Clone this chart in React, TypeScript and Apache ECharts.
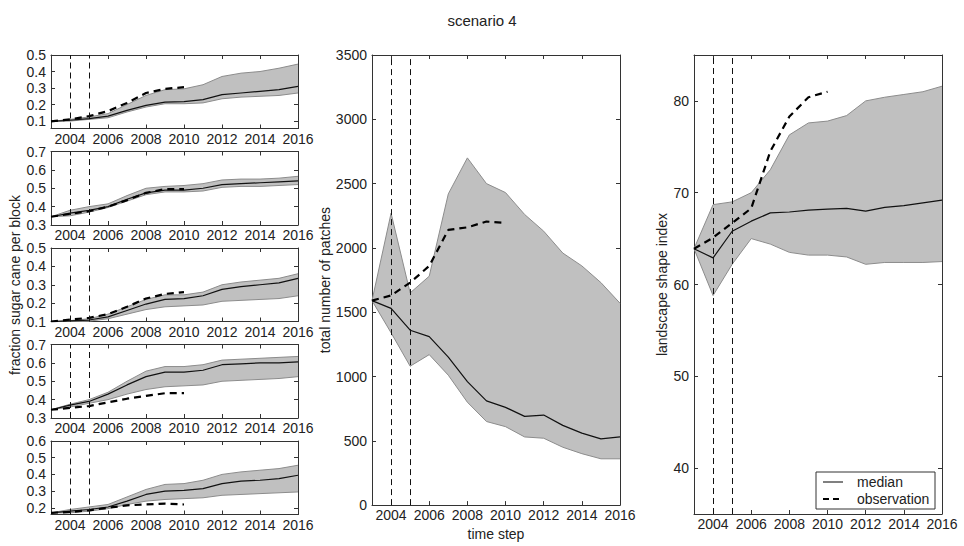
import React, { useEffect, useRef } from "react";
import * as echarts from "echarts";

const years = [2003, 2004, 2005, 2006, 2007, 2008, 2009, 2010, 2011, 2012, 2013, 2014, 2015, 2016];
const obsYears = [2003, 2004, 2005, 2006, 2007, 2008, 2009, 2010];
const xTickValues = [2004, 2006, 2008, 2010, 2012, 2014, 2016];
const markYears = [2004, 2005];

// left block panels (fraction sugar cane per block)
const b1Median = [0.098, 0.105, 0.115, 0.13, 0.165, 0.195, 0.215, 0.218, 0.23, 0.26, 0.27, 0.28, 0.29, 0.31];
const b1Upper = [0.098, 0.11, 0.125, 0.145, 0.2, 0.255, 0.29, 0.295, 0.32, 0.37, 0.39, 0.4, 0.42, 0.445];
const b1Lower = [0.098, 0.1, 0.11, 0.12, 0.155, 0.185, 0.205, 0.205, 0.21, 0.235, 0.245, 0.25, 0.255, 0.27];
const b1Obs = [0.098, 0.11, 0.13, 0.16, 0.21, 0.27, 0.295, 0.305];

const b2Median = [0.345, 0.365, 0.38, 0.4, 0.44, 0.475, 0.49, 0.49, 0.5, 0.52, 0.525, 0.53, 0.535, 0.54];
const b2Upper = [0.345, 0.38, 0.4, 0.415, 0.46, 0.5, 0.51, 0.515, 0.525, 0.545, 0.55, 0.55, 0.555, 0.565];
const b2Lower = [0.345, 0.35, 0.37, 0.395, 0.43, 0.465, 0.48, 0.48, 0.485, 0.505, 0.51, 0.51, 0.515, 0.52];
const b2Obs = [0.345, 0.36, 0.375, 0.4, 0.435, 0.475, 0.495, 0.495];

const b3Median = [0.1, 0.103, 0.108, 0.125, 0.16, 0.195, 0.22, 0.225, 0.24, 0.275, 0.29, 0.3, 0.31, 0.335];
const b3Upper = [0.1, 0.105, 0.115, 0.14, 0.18, 0.22, 0.245, 0.245, 0.26, 0.3, 0.315, 0.325, 0.335, 0.36];
const b3Lower = [0.1, 0.1, 0.102, 0.115, 0.14, 0.165, 0.18, 0.185, 0.19, 0.21, 0.215, 0.22, 0.225, 0.24];
const b3Obs = [0.1, 0.11, 0.12, 0.14, 0.18, 0.225, 0.25, 0.26];

const b4Median = [0.345, 0.37, 0.39, 0.43, 0.48, 0.525, 0.55, 0.55, 0.56, 0.59, 0.595, 0.6, 0.6, 0.605];
const b4Upper = [0.345, 0.375, 0.4, 0.44, 0.5, 0.555, 0.58, 0.58, 0.59, 0.615, 0.62, 0.625, 0.63, 0.635];
const b4Lower = [0.345, 0.36, 0.38, 0.4, 0.43, 0.455, 0.47, 0.475, 0.48, 0.5, 0.505, 0.51, 0.515, 0.525];
const b4Obs = [0.345, 0.355, 0.365, 0.385, 0.405, 0.42, 0.435, 0.435];

const b5Median = [0.17, 0.18, 0.19, 0.205, 0.24, 0.28, 0.3, 0.305, 0.315, 0.345, 0.36, 0.365, 0.375, 0.395];
const b5Upper = [0.17, 0.19, 0.205, 0.22, 0.265, 0.31, 0.34, 0.345, 0.365, 0.4, 0.415, 0.425, 0.435, 0.455];
const b5Lower = [0.17, 0.17, 0.18, 0.195, 0.22, 0.24, 0.25, 0.255, 0.26, 0.275, 0.28, 0.285, 0.29, 0.295];
const b5Obs = [0.17, 0.175, 0.185, 0.2, 0.215, 0.22, 0.225, 0.22];

const blockYMin = [0.055, 0.3, 0.1, 0.3, 0.16];
const blockYMax = [0.5, 0.7, 0.5, 0.7, 0.6];
const blockYTicks = [
  [0.1, 0.2, 0.3, 0.4, 0.5],
  [0.3, 0.4, 0.5, 0.6, 0.7],
  [0.1, 0.2, 0.3, 0.4, 0.5],
  [0.3, 0.4, 0.5, 0.6, 0.7],
  [0.2, 0.3, 0.4, 0.5, 0.6],
];

// total number of patches
const patchMedian = [1590, 1530, 1360, 1310, 1150, 960, 810, 760, 690, 700, 620, 560, 515, 530];
const patchUpper = [1590, 2270, 1650, 1780, 2420, 2700, 2500, 2430, 2260, 2130, 1960, 1860, 1730, 1570];
const patchLower = [1590, 1340, 1080, 1170, 1010, 800, 650, 610, 530, 520, 450, 400, 360, 360];
const patchObs = [1590, 1630, 1730, 1860, 2140, 2160, 2205, 2195];

// landscape shape index
const lsiMedian = [63.9, 62.9, 65.8, 66.9, 67.8, 67.9, 68.1, 68.2, 68.3, 68.0, 68.4, 68.6, 68.9, 69.2];
const lsiUpper = [63.9, 68.7, 69.0, 70.0, 72.5, 76.3, 77.6, 77.8, 78.4, 80.0, 80.4, 80.7, 81.0, 81.6];
const lsiLower = [63.9, 58.8, 62.2, 65.0, 64.4, 63.5, 63.2, 63.2, 63.0, 62.2, 62.4, 62.4, 62.4, 62.5];
const lsiObs = [63.9, 65.1, 66.7, 68.3, 74.5, 78.3, 80.4, 81.0];
const lsiTicks = [40, 50, 60, 70, 80];

const FONT = "Liberation Sans, Arial, Helvetica, sans-serif";
const TXT = "#222";
const AX = "#333";
const FS = 14;

type Panel = {
  median: number[];
  upper: number[];
  lower: number[];
  obs: number[];
  yMin: number;
  yMax: number;
  yTicks?: number[];
  yInterval?: number;
  fmt: (v: number) => string;
  grid: { left: number; top: number; width: number; height: number };
  yName?: string;
  yNameGap?: number;
  xName?: string;
};

function buildOption() {
  const panels: Panel[] = [];
  const blocks = [
    [b1Median, b1Upper, b1Lower, b1Obs],
    [b2Median, b2Upper, b2Lower, b2Obs],
    [b3Median, b3Upper, b3Lower, b3Obs],
    [b4Median, b4Upper, b4Lower, b4Obs],
    [b5Median, b5Upper, b5Lower, b5Obs],
  ];
  blocks.forEach((b, i) => {
    panels.push({
      median: b[0],
      upper: b[1],
      lower: b[2],
      obs: b[3],
      yMin: blockYMin[i],
      yMax: blockYMax[i],
      yTicks: blockYTicks[i],
      fmt: (v) => v.toFixed(1),
      grid: { left: 51, top: 55 + 96.5 * i, width: 247, height: 73.5 },
    });
  });
  panels.push({
    median: patchMedian,
    upper: patchUpper,
    lower: patchLower,
    obs: patchObs,
    yMin: 0,
    yMax: 3500,
    yInterval: 500,
    fmt: (v) => String(v),
    grid: { left: 372, top: 55, width: 248, height: 459 },
    yName: "total number of patches",
    yNameGap: 40,
    xName: "time step",
  });
  panels.push({
    median: lsiMedian,
    upper: lsiUpper,
    lower: lsiLower,
    obs: lsiObs,
    yMin: 35,
    yMax: 85,
    yTicks: lsiTicks,
    fmt: (v) => String(v),
    grid: { left: 694, top: 55, width: 248, height: 459 },
    yName: "landscape shape index",
    yNameGap: 25,
  });

  const grids: any[] = [];
  const xAxes: any[] = [];
  const yAxes: any[] = [];
  const series: any[] = [];

  const tickStyle = { inside: true, length: 4, lineStyle: { color: AX, width: 1 } };
  const lineStyle = { lineStyle: { color: AX, width: 1 } };
  const labelStyle = { color: TXT, fontSize: FS, fontFamily: FONT };

  panels.forEach((p, g) => {
    grids.push({ ...p.grid, containLabel: false });
    xAxes.push({
      type: "value",
      gridIndex: g,
      position: "bottom",
      min: 2003,
      max: 2016,
      axisLine: { show: true, onZero: false, ...lineStyle },
      axisTick: { ...tickStyle, customValues: xTickValues },
      axisLabel: { ...labelStyle, margin: 3, customValues: xTickValues, formatter: (v: number) => String(v) },
      splitLine: { show: false },
      name: p.xName,
      nameLocation: "middle",
      nameGap: 17,
      nameTextStyle: { ...labelStyle },
    });
    xAxes.push({
      type: "value",
      gridIndex: g,
      position: "top",
      min: 2003,
      max: 2016,
      axisLine: { show: true, onZero: false, ...lineStyle },
      axisTick: { ...tickStyle, customValues: xTickValues },
      axisLabel: { show: false, customValues: xTickValues },
      splitLine: { show: false },
    });
    const yTickCfg: any = p.yTicks ? { customValues: p.yTicks } : {};
    yAxes.push({
      type: "value",
      gridIndex: g,
      position: "left",
      min: p.yMin,
      max: p.yMax,
      interval: p.yInterval,
      axisLine: { show: true, onZero: false, ...lineStyle },
      axisTick: { ...tickStyle, ...yTickCfg },
      axisLabel: { ...labelStyle, margin: 5, ...yTickCfg, formatter: p.fmt },
      splitLine: { show: false },
      name: p.yName,
      nameLocation: "middle",
      nameGap: p.yNameGap,
      nameTextStyle: { ...labelStyle },
    });
    yAxes.push({
      type: "value",
      gridIndex: g,
      position: "right",
      min: p.yMin,
      max: p.yMax,
      interval: p.yInterval,
      axisLine: { show: true, onZero: false, ...lineStyle },
      axisTick: { ...tickStyle, ...yTickCfg },
      axisLabel: { show: false, ...yTickCfg },
      splitLine: { show: false },
    });

    const xi = 2 * g;
    const yi = 2 * g;
    const up = p.upper;
    const lo = p.lower;
    // shaded band between lower and upper: one polygon built through the axis scales
    series.push({
      type: "custom",
      xAxisIndex: xi,
      yAxisIndex: yi,
      silent: true,
      z: 1,
      data: years.map((y, i) => [y, lo[i], up[i]]),
      encode: { x: 0, y: [1, 2] },
      renderItem: (params: any, api: any) => {
        if (params.dataIndex !== 0) return null;
        const top = years.map((y, i) => api.coord([y, up[i]]));
        const bottom = years.map((y, i) => api.coord([y, lo[i]])).reverse();
        return {
          type: "polygon",
          shape: { points: top.concat(bottom) },
          style: { fill: "#c0c0c0", stroke: "none" },
        };
      },
    });
    series.push({
      type: "line",
      xAxisIndex: xi,
      yAxisIndex: yi,
      data: years.map((y, i) => [y, lo[i]]),
      symbol: "none",
      lineStyle: { color: "#8c8c8c", width: 1 },
      z: 2,
      silent: true,
    });
    series.push({
      type: "line",
      xAxisIndex: xi,
      yAxisIndex: yi,
      data: years.map((y, i) => [y, up[i]]),
      symbol: "none",
      lineStyle: { color: "#8c8c8c", width: 1 },
      z: 2,
      silent: true,
    });
    series.push({
      type: "line",
      xAxisIndex: xi,
      yAxisIndex: yi,
      data: years.map((y, i) => [y, p.median[i]]),
      symbol: "none",
      lineStyle: { color: "#111", width: 1.2 },
      z: 3,
      silent: true,
      markLine: {
        silent: true,
        symbol: ["none", "none"],
        label: { show: false },
        lineStyle: { color: "#111", width: 1, type: [6, 4] },
        data: markYears.map((y) => ({ xAxis: y })),
        z: 5,
      },
    });
    series.push({
      type: "line",
      xAxisIndex: xi,
      yAxisIndex: yi,
      data: obsYears.map((y, i) => [y, p.obs[i]]),
      symbol: "none",
      lineStyle: { color: "#000", width: 2.2, type: [7, 5] },
      z: 4,
      silent: true,
    });
  });

  const graphic: any[] = [
    {
      type: "text",
      x: 15,
      y: 285,
      rotation: Math.PI / 2,
      style: {
        text: "fraction sugar cane per block",
        fontSize: FS,
        fontFamily: FONT,
        fill: TXT,
        align: "center",
        verticalAlign: "middle",
      },
    },
    {
      type: "rect",
      shape: { x: 816, y: 472, width: 119, height: 37 },
      style: { fill: "#fff", stroke: "#333", lineWidth: 1 },
      z: 100,
    },
    {
      type: "line",
      shape: { x1: 823, y1: 482, x2: 843, y2: 482 },
      style: { stroke: "#808080", lineWidth: 2 },
      z: 101,
    },
    {
      type: "line",
      shape: { x1: 823, y1: 499, x2: 843, y2: 499 },
      style: { stroke: "#000", lineWidth: 2, lineDash: [6, 4] },
      z: 101,
    },
    {
      type: "text",
      x: 857,
      y: 482,
      style: { text: "median", fontSize: FS, fontFamily: FONT, fill: TXT, align: "left", verticalAlign: "middle" },
      z: 101,
    },
    {
      type: "text",
      x: 857,
      y: 499,
      style: { text: "observation", fontSize: FS, fontFamily: FONT, fill: TXT, align: "left", verticalAlign: "middle" },
      z: 101,
    },
  ];

  return {
    animation: false,
    backgroundColor: "#fff",
    title: {
      text: "scenario 4",
      left: "center",
      top: 8,
      textStyle: { fontSize: 15, fontWeight: "normal", color: TXT, fontFamily: FONT },
    },
    grid: grids,
    xAxis: xAxes,
    yAxis: yAxes,
    series,
    graphic,
  };
}

export default function App() {
  const ref = useRef<HTMLDivElement>(null);
  useEffect(() => {
    if (!ref.current) return;
    const chart = echarts.init(ref.current, undefined, { renderer: "svg" });
    chart.setOption(buildOption() as any);
    return () => chart.dispose();
  }, []);
  return (
    <div
      ref={ref}
      style={{ position: "fixed", left: 0, top: 0, width: 964, height: 546, background: "#fff" }}
    />
  );
}
